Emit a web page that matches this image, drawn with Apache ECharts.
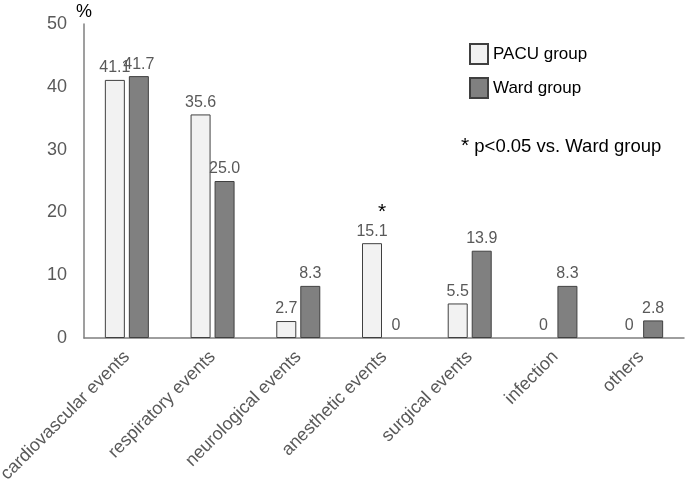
<!DOCTYPE html>
<html>
<head>
<meta charset="utf-8">
<script src="https://cdn.jsdelivr.net/npm/echarts@6/dist/echarts.min.js"></script>
<style>
  html, body { margin: 0; padding: 0; background: #fff; }
  #main { width: 685px; height: 485px; }
</style>
</head>
<body>
<div id="main"></div>
<script>
// 数据
var categories = ['cardiovascular events', 'respiratory events', 'neurological events',
  'anesthetic events', 'surgical events', 'infection', 'others'];
var pacuValues = [41.1, 35.6, 2.7, 15.1, 5.5, 0, 0];
var wardValues = [41.7, 25.0, 8.3, 0, 13.9, 8.3, 2.8];
var starIndex = 3; // p<0.05 vs. Ward group

var myChart = echarts.init(document.getElementById('main'));
var font = 'Liberation Sans, Arial, sans-serif';

// 0值的柱子不画边框
function toItems(values, withStar) {
  return values.map(function (v, i) {
    var item = { value: v };
    if (v === 0) item.itemStyle = { borderWidth: 0 };
    if (withStar && i === starIndex) {
      item.label = {
        formatter: '{s|*}\n{v|{c}}',
        rich: {
          s: { fontSize: 21, color: '#000', padding: [0, 0, 0, 20], fontFamily: font },
          v: { fontSize: 16, color: '#595959', fontFamily: font }
        }
      };
    }
    return item;
  });
}

var option = {
  animation: false,
  grid: { left: 84, right: 1, top: 24, bottom: 147, outerBoundsMode: 'none' },
  legend: {
    left: 464,
    top: 38,
    orient: 'vertical',
    icon: 'rect',
    itemWidth: 18,
    itemHeight: 20,
    itemGap: 12,
    textStyle: { fontSize: 17, color: '#000', fontFamily: font },
    data: ['PACU group', 'Ward group']
  },
  graphic: [{
    type: 'text',
    left: 461,
    top: 136,
    style: {
      text: '{s|*} p<0.05 vs. Ward group',
      rich: {
        s: { fontSize: 21, fill: '#000', verticalAlign: 'top', fontFamily: font }
      },
      fontSize: 18.5,
      fill: '#000',
      fontFamily: font
    }
  }],
  xAxis: {
    type: 'category',
    data: categories,
    axisLine: { lineStyle: { color: '#7f7f7f', width: 1.5 } },
    axisTick: { show: false },
    axisLabel: {
      rotate: 45,
      interval: 0,
      margin: 16,
      fontSize: 18,
      color: '#595959',
      fontFamily: font
    }
  },
  yAxis: {
    type: 'value',
    min: 0,
    max: 50,
    interval: 10,
    name: '%',
    nameGap: 3,
    nameTextStyle: { fontSize: 18, color: '#000', fontFamily: font, align: 'center' },
    axisLine: { show: true, lineStyle: { color: '#7f7f7f', width: 1.5 } },
    axisTick: { show: false },
    splitLine: { show: false },
    axisLabel: { fontSize: 18, color: '#595959', margin: 17, fontFamily: font }
  },
  series: [
    {
      name: 'PACU group',
      type: 'bar',
      barWidth: 20,
      barGap: '20%',
      data: toItems(pacuValues, true),
      itemStyle: { color: '#f2f2f2', borderColor: '#404040', borderWidth: 1 },
      label: { show: true, position: 'top', fontSize: 16, color: '#595959', fontFamily: font, distance: 4 }
    },
    {
      name: 'Ward group',
      type: 'bar',
      barWidth: 20,
      data: toItems(wardValues, false),
      itemStyle: { color: '#808080', borderColor: '#404040', borderWidth: 1 },
      label: {
        show: true, position: 'top', fontSize: 16, color: '#595959', fontFamily: font, distance: 4,
        formatter: function (p) { return p.value === 25 ? '25.0' : String(p.value); }
      }
    }
  ]
};
// 把配置给实例对象
myChart.setOption(option);
</script>
</body>
</html>
